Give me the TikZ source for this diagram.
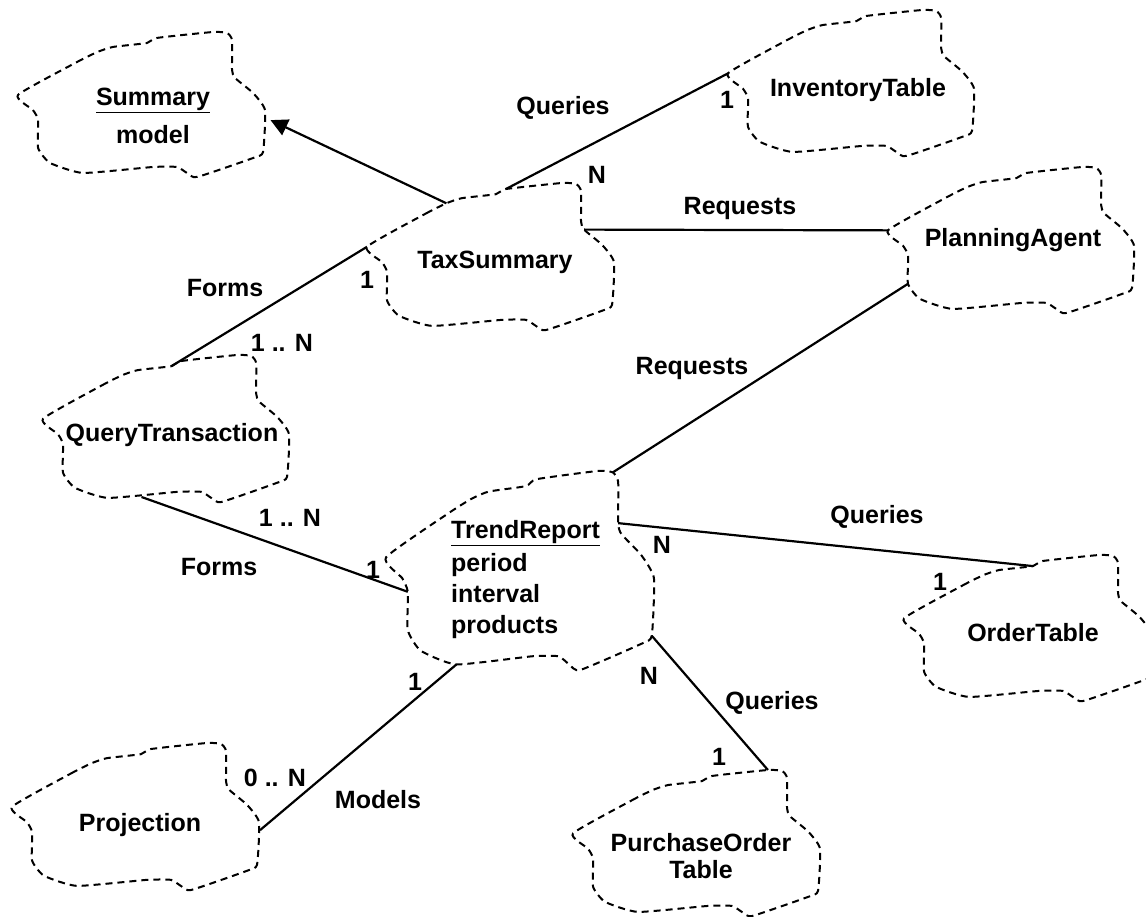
\documentclass[tikz,border=0pt]{standalone}
\usepackage{fontspec}
\setmainfont{Liberation Sans}
\usetikzlibrary{arrows.meta}
\begin{document}
\begin{tikzpicture}[x=1pt,y=-1pt,
  cloudline/.style={line width=2pt, dash pattern=on 7pt off 5pt},
  conn/.style={line width=2.2pt},
  lbl/.style={font=\fontsize{25}{31}\selectfont\bfseries, inner sep=0pt},
  % a dashed object cloud in unit coordinates (x right, y down); scaled by the pic options
  cloud/.pic={
    \draw[cloudline] plot[smooth cycle, tension=0.3] coordinates {
      (0,.434) (.238,.207) (.32,.138) (.383,.103) (.52,.076)
      (.56,.041) (.786,0) (.843,.007) (.863,.055) (.863,.262)
      (.875,.317) (.948,.421) (.996,.538) (.988,.828) (.948,.869)
      (.722,1) (.681,.972) (.641,.931) (.544,.931)
      (.262,.972) (.129,.903) (.081,.8) (.081,.607) (.06,.538)};
    \foreach \u/\v [count=\i] in {
      0/.434, .10/.276, .238/.207, .32/.138, .383/.103, .52/.076,
      .56/.041, .653/.021, .786/0, .843/.007, .863/.055, .863/.262,
      .875/.317, .948/.421, .996/.538, 1/.593, .988/.828, .948/.869,
      .802/.952, .722/1, .681/.972, .641/.931, .544/.931, .399/.966,
      .262/.972, .129/.903, .081/.8, .081/.607, .06/.538, .008/.469}
      {\coordinate (-\i) at (\u,\v);}
  }]
\useasboundingbox (0,0) rectangle (1146,917);
\clip (0,0) rectangle (1146,917);

% clouds
\pic[xscale=248, yscale=145] (summary) at (18,32)  {cloud};
\pic[xscale=248, yscale=147] (tax)     at (367,183) {cloud};
\pic[xscale=247, yscale=146] (inv)     at (728,10)  {cloud};
\pic[xscale=247, yscale=146] (plan)    at (888,167) {cloud};
\pic[xscale=247, yscale=147] (qt)      at (43,355)  {cloud};
\pic[xscale=269, yscale=199] (trend)   at (386,471) {cloud};
\pic[xscale=248, yscale=146] (order)   at (904,555) {cloud};
\pic[xscale=248, yscale=147] (proj)    at (12,743)  {cloud};
\pic[xscale=248, yscale=146] (po)      at (573,770) {cloud};

% class names and attributes
\node[lbl, align=center] (sumtxt) at (153,116) {\underline{Summary}\\[7pt]model};
\node[lbl] (taxtxt) at (495,262) {TaxSummary};
\node[lbl] (invtxt) at (858,90) {InventoryTable};
\node[lbl] (plantxt) at (1013,240) {PlanningAgent};
\node[lbl] (qttxt) at (172,435) {QueryTransaction};
\node[lbl, anchor=north west, align=left] (trendtxt) at (451,520)
  {\underline{TrendReport}\\[2pt]period\\interval\\products};
\node[lbl] (ordertxt) at (1033,633) {OrderTable};
\node[lbl] (projtxt) at (140,825) {Projection};
\node[lbl, align=center, font=\fontsize{25}{27}\selectfont\bfseries] (potxt) at (701,856) {PurchaseOrder\\Table};

% associations
\draw[conn, -{Triangle[length=17pt,width=17pt]}, shorten >=5pt] (tax-4) -- (summary-16);
\draw[conn] (tax-7) -- (inv-1);
\draw[conn] (tax-13) -- (plan-1);
\draw[conn] (qt-6) -- (tax-1);
\draw[conn] (trend-10) -- (plan-27);
\draw[conn] (qt-24) -- (trend-28);
\draw[conn] (trend-12) -- (order-6);
\draw[conn] (trend-17) -- (po-9);
\draw[conn] (trend-25) -- (proj-16);

% association names and multiplicities
\node[lbl] (q1) at (563,108) {Queries};
\node[lbl] (q1n) at (597,175) {N};
\node[lbl] (q1o) at (727,100) {1};
\node[lbl] (r1) at (740,208) {Requests};
\node[lbl] (f1) at (225,288) {Forms};
\node[lbl] (f1o) at (367,280) {1};
\node[lbl] (f1n) at (282,343) {1 .. N};
\node[lbl] (r2) at (692,368) {Requests};
\node[lbl] (f2) at (219,567) {Forms};
\node[lbl] (f2n) at (290,518) {1 .. N};
\node[lbl] (f2o) at (373,570) {1};
\node[lbl] (q2) at (877,517) {Queries};
\node[lbl] (q2n) at (662,545) {N};
\node[lbl] (q2o) at (940,582) {1};
\node[lbl] (q3) at (772,703) {Queries};
\node[lbl] (q3n) at (649,676) {N};
\node[lbl] (q3o) at (719,757) {1};
\node[lbl] (m) at (378,800) {Models};
\node[lbl] (mo) at (415,682) {1};
\node[lbl] (mn) at (275,778) {0 .. N};
\end{tikzpicture}
\end{document}
